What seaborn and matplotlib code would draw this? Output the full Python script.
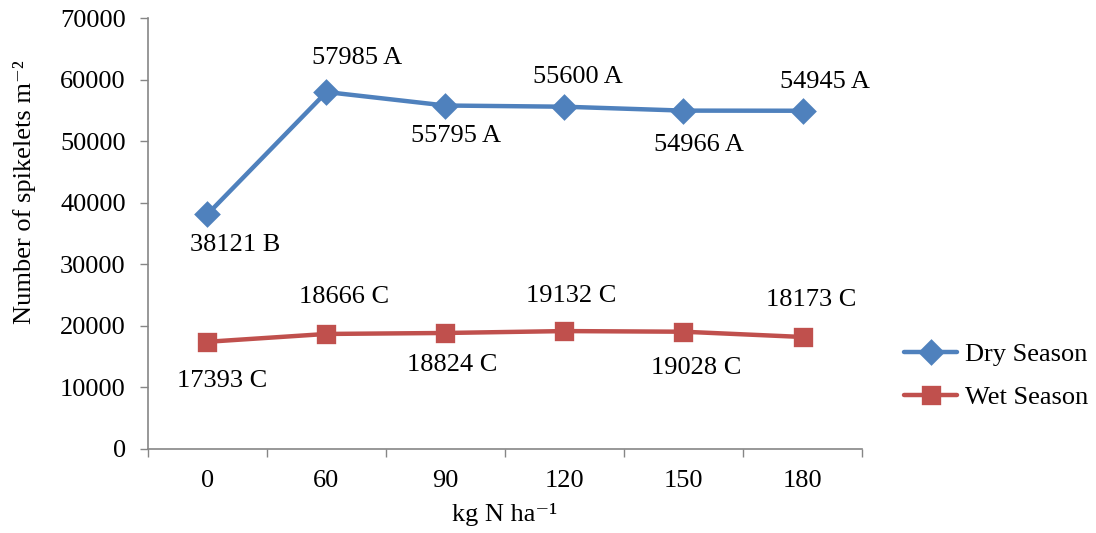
import pandas as pd
import seaborn as sns
import matplotlib.pyplot as plt
from matplotlib.ticker import FixedLocator

doses = ["0", "60", "90", "120", "150", "180"]
dry = [38121, 57985, 55795, 55600, 54966, 54945]
wet = [17393, 18666, 18824, 19132, 19028, 18173]
dry_letters = ["B", "A", "A", "A", "A", "A"]
wet_letters = ["C", "C", "C", "C", "C", "C"]
seasons = ["Dry Season", "Wet Season"]
colores = ["#4F81BD", "#C0504D"]

df = pd.DataFrame({
    "dose": doses * 2,
    "value": dry + wet,
    "season": [seasons[0]] * 6 + [seasons[1]] * 6,
})

sns.set_style("white")
plt.rcParams["font.family"] = ["Liberation Serif", "DejaVu Serif"]
plt.rcParams["text.color"] = "black"
plt.rcParams["axes.labelcolor"] = "black"
plt.rcParams["xtick.labelcolor"] = "black"
plt.rcParams["ytick.labelcolor"] = "black"

fs = 19
fig = plt.figure(figsize=(10.96, 5.33), dpi=100)
ax = fig.add_axes([0.135, 0.158, 0.6515, 0.808])

sns.pointplot(
    data=df, x="dose", y="value", hue="season", order=doses,
    palette=colores, markers=["D", "s"], linestyles=["-", "-"],
    errorbar=None, linewidth=3.2, markersize=11, ax=ax,
)

ax.set_xlim(-0.5, 5.5)
ax.set_ylim(0, 70000)
ax.set_yticks(range(0, 70001, 10000))

# label offsets in pixels (dx, dy)
dry_off = [(28, -31), (31, 34), (11, -30), (13, 30), (15, -34), (22, 29)]
wet_off = [(15, -39), (18, 37), (7, -32), (7, 35), (13, -36), (9, 37)]
for vals, lets, offs in [(dry, dry_letters, dry_off), (wet, wet_letters, wet_off)]:
    for i, (v, l) in enumerate(zip(vals, lets)):
        dx, dy = offs[i]
        ax.annotate(f"{v} {l}", (i, v), xytext=(dx * 0.72, dy * 0.72),
                    textcoords="offset points", ha="center", va="center",
                    fontsize=fs, color="black")

# Excel style category axis: ticks between categories
ax.xaxis.set_minor_locator(FixedLocator([i - 0.5 for i in range(7)]))
ax.tick_params(axis="x", which="major", length=0, pad=15, labelsize=fs)
ax.tick_params(axis="x", which="minor", length=6, width=1, color="#868686", direction="out")
ax.tick_params(axis="y", length=6, width=1, color="#868686", direction="out", pad=10, labelsize=fs)
ax.tick_params(bottom=True, left=True, which="both")

for s in ["top", "right"]:
    ax.spines[s].set_visible(False)
for s in ["left", "bottom"]:
    ax.spines[s].set_color("#868686")
    ax.spines[s].set_linewidth(1.2)

ax.set_xlabel("kg N ha\u207b\u00b9", fontsize=fs, labelpad=8)
ax.set_ylabel("Number of spikelets m\u207b\u00b2", fontsize=fs)
ax.yaxis.set_label_coords(-0.157, 0.596)

handles, labels = ax.get_legend_handles_labels()
ax.get_legend().remove()
fig.legend(handles, labels, loc="center left", bbox_to_anchor=(0.825, 0.295),
           frameon=False, fontsize=fs, handlelength=2.0, handletextpad=0.3,
           labelspacing=0.75, borderaxespad=0, borderpad=0)

fig.savefig("out.png", dpi=100)
